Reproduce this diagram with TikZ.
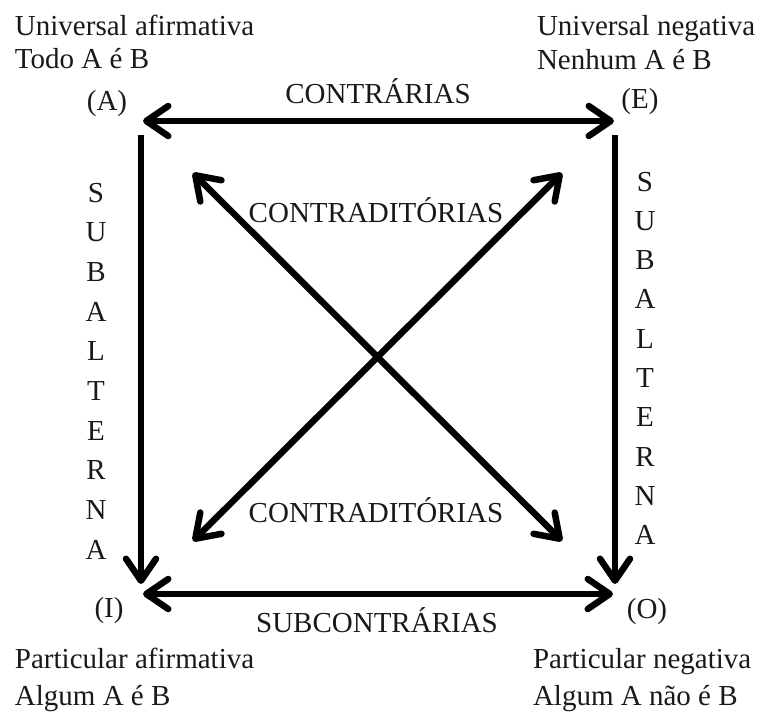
\documentclass[tikz,border=0pt]{standalone}
\usepackage{fontspec}
\setmainfont{Liberation Serif}
\usetikzlibrary{arrows.meta}
\begin{document}
\begin{tikzpicture}[x=1pt,y=-1pt,
  txt/.style={inner sep=0pt,outer sep=0pt,font=\fontsize{29}{34}\selectfont,text=black!90},
  lft/.style={txt,anchor=base west},
  ctr/.style={txt,anchor=base},
  rel/.style={line width=6.5pt,black,{Straight Barb[length=22pt,width=30pt,line width=6.5pt,round]}-{Straight Barb[length=22pt,width=30pt,line width=6.5pt,round]}},
  one/.style={line width=6.5pt,black,-{Straight Barb[length=22pt,width=30pt,line width=6.5pt,round]}}]
\useasboundingbox (0,0) rectangle (761,713);
% corner texts
\node[lft] (ua1) at (15,35) {Universal afirmativa};
\node[lft] (ua2) at (15,68) {Todo A é B};
\node[ctr] (A) at (107,110) {(A)};
\node[lft] (un1) at (537,35) {Universal negativa};
\node[lft] (un2) at (537,69) {Nenhum A é B};
\node[ctr] (E) at (640,108) {(E)};
\node[ctr] (I) at (109,617) {(I)};
\node[ctr] (O) at (647,618) {(O)};
\node[lft] (pa1) at (15,668) {Particular afirmativa};
\node[lft] (pa2) at (15,705) {Algum A é B};
\node[lft] (pn1) at (533,668) {Particular negativa};
\node[lft] (pn2) at (533,705) {Algum A não é B};
% relation labels
\node[ctr] (contr) at (378,103) {CONTRÁRIAS};
\node[ctr] (cd1) at (376,222) {CONTRADITÓRIAS};
\node[ctr] (cd2) at (376,522) {CONTRADITÓRIAS};
\node[ctr] (subc) at (377,632) {SUBCONTRÁRIAS};
\foreach \l [count=\i from 0] in {S,U,B,A,L,T,E,R,N,A}{
  \node[ctr] (L\i) at (96,202+39.7*\i) {\l};
  \node[ctr] (R\i) at (645,191+39.3*\i) {\l};
}
% connector end points
\coordinate (tl) at (143,121);
\coordinate (tr) at (614,121);
\coordinate (bl) at (143,594);
\coordinate (br) at (613,594);
\coordinate (lt) at (141,135);
\coordinate (lb) at (141,584);
\coordinate (rt) at (615,135);
\coordinate (rb) at (615,584);
\coordinate (d1) at (193,173);
\coordinate (d2) at (562,541);
\coordinate (d3) at (562,173);
\coordinate (d4) at (193,541);
% connectors
\draw[rel] (tl) -- (tr);
\draw[rel] (bl) -- (br);
\draw[one] (lt) -- (lb);
\draw[one] (rt) -- (rb);
\draw[rel] (d1) -- (d2);
\draw[rel] (d3) -- (d4);
\end{tikzpicture}
\end{document}
